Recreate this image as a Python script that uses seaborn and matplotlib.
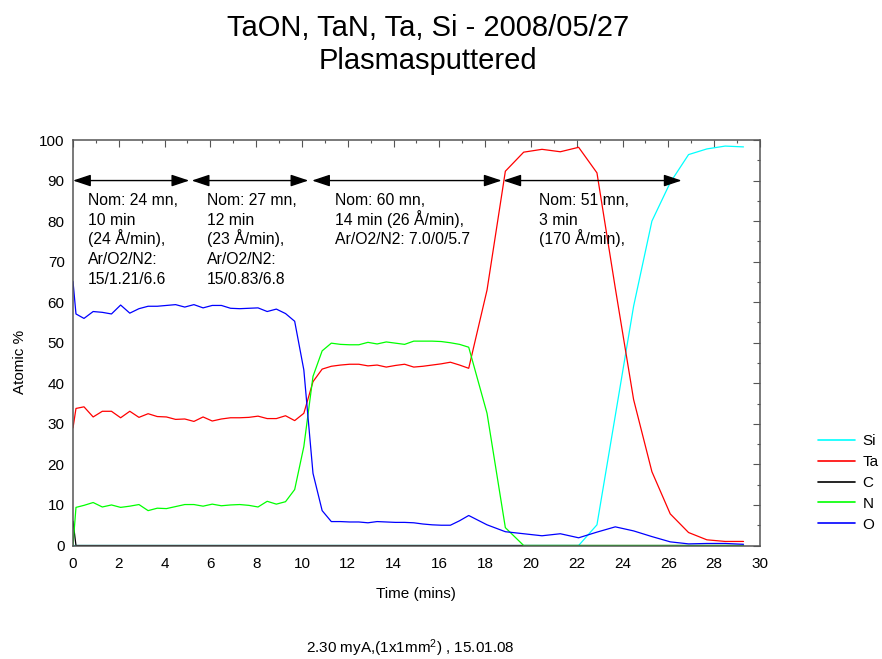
import matplotlib
matplotlib.use("Agg")
import matplotlib.pyplot as plt
import seaborn as sns
import pandas as pd

# Sputter time (min) of each depth-profile point
time_min = [0.00, 0.13, 0.48, 0.88, 1.28, 1.68, 2.08, 2.48, 2.88, 3.28,
            3.68, 4.08, 4.48, 4.88, 5.28, 5.68, 6.08, 6.48, 6.88, 7.28,
            7.68, 8.08, 8.48, 8.88, 9.28, 9.68, 10.08, 10.48, 10.88, 11.28,
            11.68, 12.08, 12.48, 12.88, 13.28, 13.68, 14.08, 14.48, 14.88, 15.28,
            15.68, 16.08, 16.48, 16.88, 17.28, 18.08, 18.88, 19.68, 20.48, 21.28,
            22.08, 22.88, 23.68, 24.48, 25.28, 26.08, 26.88, 27.68, 28.48, 29.28]

# Atomic concentrations (%)
si = [0.0, 0.0, 0.0, 0.0, 0.0, 0.0, 0.0, 0.0, 0.0, 0.0,
      0.0, 0.0, 0.0, 0.0, 0.0, 0.0, 0.0, 0.0, 0.0, 0.0,
      0.0, 0.0, 0.0, 0.0, 0.0, 0.0, 0.0, 0.0, 0.0, 0.0,
      0.0, 0.0, 0.0, 0.0, 0.0, 0.0, 0.0, 0.0, 0.0, 0.0,
      0.0, 0.0, 0.0, 0.0, 0.0, 0.0, 0.0, 0.0, 0.0, 0.0,
      0.0, 5.1, 32.0, 59.0, 80.0, 89.5, 96.4, 97.8, 98.5, 98.3]

ta = [29.0, 33.8, 34.2, 31.7, 33.1, 33.1, 31.5, 33.1, 31.6, 32.5,
      31.8, 31.7, 31.1, 31.2, 30.6, 31.7, 30.7, 31.2, 31.5, 31.5,
      31.6, 31.9, 31.3, 31.3, 32.0, 30.8, 32.6, 40.4, 43.5, 44.2,
      44.5, 44.7, 44.7, 44.3, 44.5, 44.0, 44.4, 44.7, 44.0, 44.2,
      44.5, 44.8, 45.2, 44.5, 43.7, 63.0, 92.3, 97.0, 97.7, 97.1,
      98.2, 91.9, 63.5, 36.0, 18.2, 7.8, 3.2, 1.4, 1.0, 1.0]

c = [6.0, 0.0, 0.0, 0.0, 0.0, 0.0, 0.0, 0.0, 0.0, 0.0,
     0.0, 0.0, 0.0, 0.0, 0.0, 0.0, 0.0, 0.0, 0.0, 0.0,
     0.0, 0.0, 0.0, 0.0, 0.0, 0.0, 0.0, 0.0, 0.0, 0.0,
     0.0, 0.0, 0.0, 0.0, 0.0, 0.0, 0.0, 0.0, 0.0, 0.0,
     0.0, 0.0, 0.0, 0.0, 0.0, 0.0, 0.0, 0.0, 0.0, 0.0,
     0.0, 0.0, 0.0, 0.0, 0.0, 0.0, 0.0, 0.0, 0.0, 0.0]

n = [0.0, 9.4, 9.9, 10.6, 9.5, 10.0, 9.4, 9.7, 10.1, 8.6,
     9.2, 9.1, 9.6, 10.1, 10.1, 9.7, 10.2, 9.8, 10.0, 10.1,
     9.9, 9.5, 10.9, 10.2, 10.8, 13.8, 24.4, 41.7, 48.0, 49.9,
     49.6, 49.5, 49.5, 50.1, 49.7, 50.2, 49.9, 49.6, 50.4, 50.4,
     50.4, 50.3, 50.0, 49.6, 48.9, 32.6, 4.4, 0.0, 0.0, 0.0,
     0.0, 0.0, 0.0, 0.0, 0.0, 0.0, 0.0, 0.0, 0.0, 0.0]

o = [65.1, 57.1, 56.0, 57.7, 57.5, 57.1, 59.3, 57.3, 58.4, 59.0,
     59.0, 59.2, 59.4, 58.8, 59.4, 58.6, 59.2, 59.2, 58.5, 58.4,
     58.5, 58.6, 57.7, 58.3, 57.2, 55.3, 43.3, 17.8, 8.6, 5.9,
     5.9, 5.8, 5.8, 5.6, 5.9, 5.8, 5.7, 5.7, 5.6, 5.3,
     5.1, 5.0, 5.0, 6.1, 7.4, 5.1, 3.4, 2.9, 2.4, 2.9,
     1.9, 3.3, 4.6, 3.6, 2.2, 0.9, 0.4, 0.5, 0.5, 0.3]

elements = ["Si", "Ta", "C", "N", "O"]
element_colors = {"Si": "#00ffff", "Ta": "#ff0000", "C": "#000000",
                  "N": "#00ff00", "O": "#0000ff"}

# Sputter steps: start, end (min) and recipe text lines
step_start = [0.0, 5.18, 10.44, 18.79]
step_end = [5.08, 10.28, 18.72, 26.58]
step_lines = [
    ["Nom: 24 mn,", "10 min", "(24 Å/min),", "Ar/O2/N2:", "15/1.21/6.6"],
    ["Nom: 27 mn,", "12 min", "(23 Å/min),", "Ar/O2/N2:", "15/0.83/6.8"],
    ["Nom: 60 mn,", "14 min (26 Å/min),", "Ar/O2/N2: 7.0/0/5.7"],
    ["Nom: 51 mn,", "3 min", "(170 Å/min),"],
]
step_text_x = [0.65, 5.84, 11.45, 20.36]

series = {"Si": si, "Ta": ta, "C": c, "N": n, "O": o}
df = pd.concat(
    [pd.DataFrame({"Time": time_min, "Atomic": vals, "Element": name})
     for name, vals in series.items()],
    ignore_index=True,
)

sns.set_style("white")
plt.rcParams["font.family"] = ["Liberation Sans", "DejaVu Sans"]
plt.rcParams["mathtext.default"] = "regular"
plt.rcParams["text.color"] = "black"

W, H = 882, 659
fig = plt.figure(figsize=(W / 100, H / 100), dpi=100)
ax = fig.add_axes([73 / W, 1 - 545.5 / H, (760 - 73) / W, (545.5 - 140) / H])

sns.lineplot(data=df, x="Time", y="Atomic", hue="Element", hue_order=elements,
             palette=element_colors, estimator=None, sort=False,
             linewidth=0.9, ax=ax)

ax.set_xlim(0, 30)
ax.set_ylim(0, 100)
ax.set_xticks(range(0, 31, 2))
ax.set_xticks(range(0, 31, 1), minor=True)
ax.set_yticks(range(0, 101, 10))
ax.set_yticks(range(0, 101, 5), minor=True)
ax.set_xlabel("")
ax.set_ylabel("")

spine_color = "#555555"
for sp in ax.spines.values():
    sp.set_visible(True)
    sp.set_color(spine_color)
    sp.set_linewidth(1.1)
ax.tick_params(which="both", direction="in", top=True, right=True,
               color=spine_color, width=0.8, labelsize=11, labelcolor="black")
ax.tick_params(which="major", length=5)
ax.tick_params(which="minor", length=2.5)
ax.tick_params(axis="x", which="major", pad=8)
ax.tick_params(axis="y", which="major", pad=6)

# Sputter-step arrows and recipe notes
for x0, x1 in zip(step_start, step_end):
    ax.annotate("", xy=(x1, 90), xytext=(x0, 90),
                arrowprops=dict(arrowstyle="<|-|>,head_length=0.9,head_width=0.3",
                                mutation_scale=12, lw=1.0, color="black",
                                shrinkA=0, shrinkB=0))
line_step = 14.2  # points between note lines
for tx, lines in zip(step_text_x, step_lines):
    for i, line in enumerate(lines):
        ax.annotate(line, xy=(tx, 84.0), xycoords="data",
                    xytext=(0, -i * line_step), textcoords="offset points",
                    ha="left", va="baseline", fontsize=11.3, color="black")

# Legend at the right of the plot
leg = ax.get_legend()
handles = leg.legend_handles
labels = [t.get_text() for t in leg.get_texts()]
leg.remove()
for h in handles:
    h.set_linewidth(1.2)
ax.legend(handles, labels, loc="upper left", bbox_to_anchor=(812 / W, 1 - 428 / H),
          bbox_transform=fig.transFigure, frameon=False, fontsize=11,
          handlelength=2.4, handletextpad=0.5, labelspacing=0.45,
          borderaxespad=0)

fig.text(428 / W, 1 - 28 / H, "TaON, TaN, Ta, Si - 2008/05/27",
         ha="center", va="center", fontsize=21)
fig.text(428 / W, 1 - 61 / H, "Plasmasputtered",
         ha="center", va="center", fontsize=21)
fig.text(20 / W, 1 - 362 / H, "Atomic %", rotation=90,
         ha="center", va="center", fontsize=11)
fig.text(416 / W, 1 - 594 / H, "Time (mins)", ha="center", va="center",
         fontsize=11)
fig.text(410 / W, 1 - 648 / H, "2.30 myA,(1x1mm$^2$) , 15.01.08",
         ha="center", va="center", fontsize=11)

fig.savefig("out.png", dpi=100)
